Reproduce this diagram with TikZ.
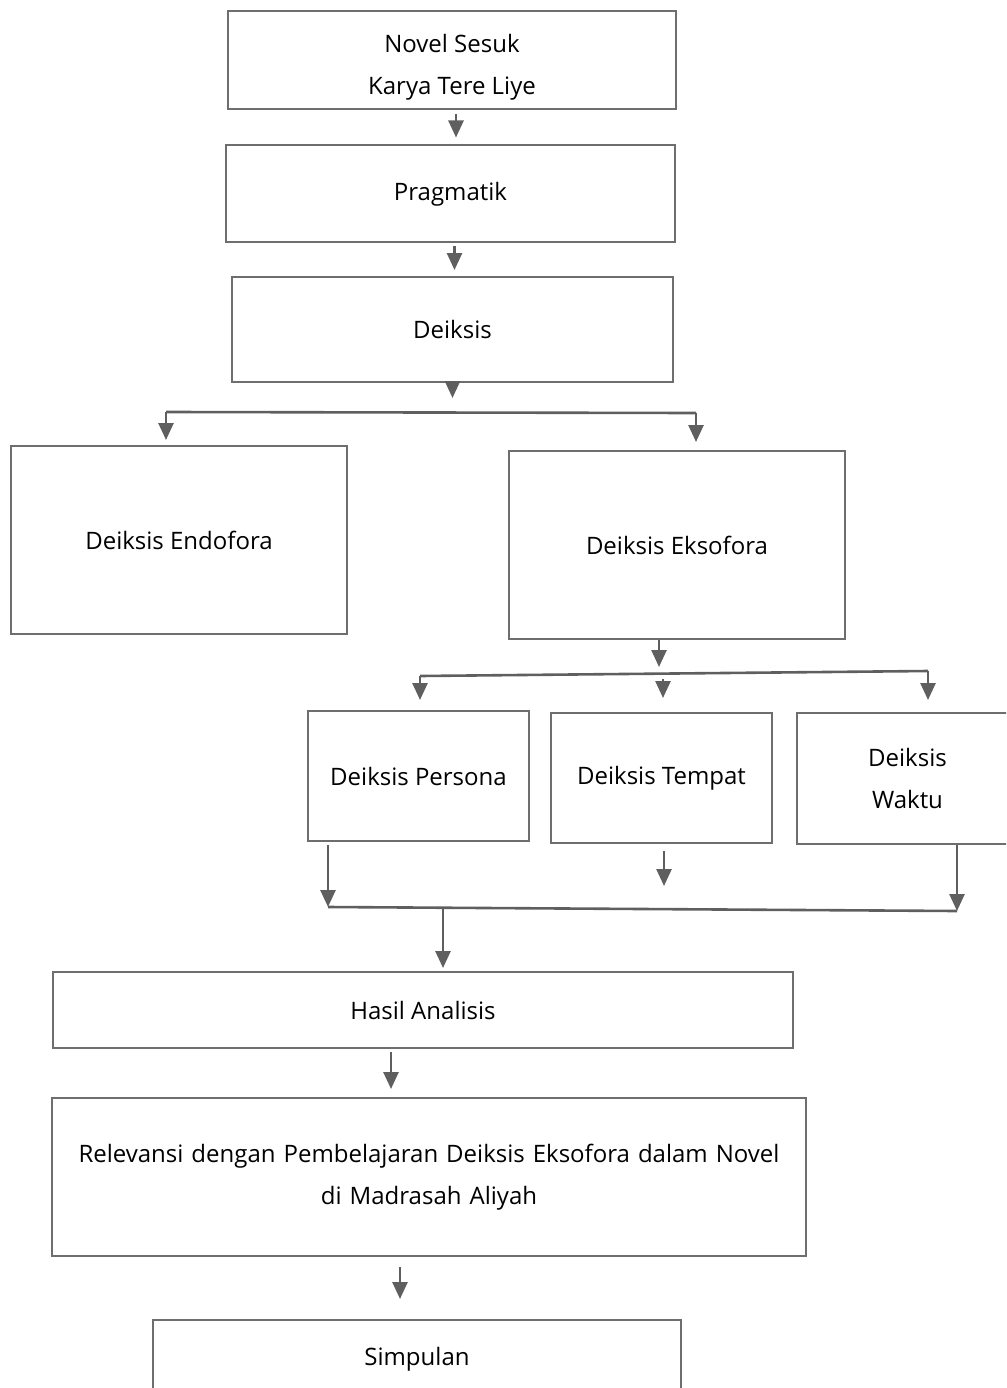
\documentclass[tikz,border=0pt]{standalone}
\usepackage{fontspec}
\setmainfont{Open Sans}
\usepackage{xcolor}
\usepackage{tikz}
\usetikzlibrary{positioning,calc,arrows.meta}

\definecolor{garis}{HTML}{5F5F5F}
\definecolor{tepi}{HTML}{6E6E6E}

\tikzset{
    kotak/.style={draw=tepi, line width=2pt, inner sep=0pt, align=center,
                  font=\fontsize{24}{42}\selectfont},
    panah/.style={-{Triangle[length=17pt,width=15pt]}, draw=garis, line width=2.6pt},
    cabang/.style={draw=garis, line width=2.6pt}
}

\begin{document}
\begin{tikzpicture}[x=1pt, y=-1pt]
    \useasboundingbox (0,0) rectangle (1006,1388);
    \clip (0,0) rectangle (1006,1388);

    % Boxes
    \node[kotak, minimum width=448pt, minimum height=98pt] (novel) at (452,60) {\rule{0pt}{32pt}Novel Sesuk\\Karya Tere Liye};
    \node[kotak, minimum width=449pt, minimum height=97pt] (prag) at (450.5,194) {Pragmatik};
    \node[kotak, minimum width=441pt, minimum height=105pt] (deiksis) at (452.5,329.5) {Deiksis};

    \node[kotak, minimum width=336pt, minimum height=188pt] (endo) at (179,540) {Deiksis Endofora};
    \node[kotak, minimum width=336pt, minimum height=188pt] (ekso) at (677,545) {Deiksis Eksofora};

    \node[kotak, minimum width=221pt, minimum height=130pt] (persona) at (418.5,776) {Deiksis Persona};
    \node[kotak, minimum width=221pt, minimum height=130pt] (tempat) at (661.5,778) {Deiksis Tempat};
    \node[kotak, minimum width=221pt, minimum height=131pt] (waktu) at (907.5,778.5) {Deiksis\\Waktu};

    \node[kotak, minimum width=740pt, minimum height=76pt] (hasil) at (423,1010) {Hasil Analisis};
    \node[kotak, minimum width=754pt, minimum height=158pt, text width=730pt] (relevansi) at (429,1177)
        {Relevansi dengan Pembelajaran Deiksis Eksofora dalam Novel\\di Madrasah Aliyah};
    \node[kotak, minimum width=528pt, minimum height=78pt] (simpulan) at (417,1359) {Simpulan};

    % Branch points
    \coordinate (cab1a) at (166,412);
    \coordinate (cab1b) at (696,413);
    \coordinate (cab2a) at (420,676);
    \coordinate (cab2b) at (928,671);
    \coordinate (cab2c) at (663,679);
    \coordinate (gab1) at (328,907);
    \coordinate (gab2) at (957,911);
    \coordinate (gab3) at (443,909);
    \coordinate (ujung) at (664,886);

    % Top column
    \draw[panah, shorten <=4pt, shorten >=7pt] ([xshift=4]novel.south) -- ([xshift=4]novel.south |- prag.north);
    \draw[panah, shorten <=3pt, shorten >=6pt] ([xshift=4]prag.south) -- ([xshift=4]prag.south |- deiksis.north);
    \draw[panah, shorten <=-4pt, shorten >=14pt] (deiksis.south) -- (deiksis.south |- cab1a);

    % First split
    \draw[cabang] (cab1a) -- (cab1b);
    \draw[panah, shorten >=5pt] (cab1a) -- (cab1a |- endo.north);
    \draw[panah, shorten >=8pt] (cab1b) -- (cab1b |- ekso.north);

    % Second split
    \draw[panah, shorten >=9pt] ([xshift=-18]ekso.south) -- ([xshift=-18]ekso.south |- cab2a);
    \draw[cabang] (cab2a) -- (cab2b);
    \draw[panah, shorten >=10pt] (cab2a) -- (cab2a |- persona.north);
    \draw[panah, shorten >=14pt] (cab2c) -- (cab2c |- tempat.north);
    \draw[panah, shorten >=12pt] (cab2b) -- (cab2b |- waktu.north);

    % Join
    \draw[panah, shorten <=3pt] (persona.south -| gab1) -- (gab1);
    \draw[panah, shorten <=7pt] (tempat.south -| ujung) -- (ujung);
    \draw[panah] (waktu.south -| gab2) -- (gab2);
    \draw[cabang] (gab1) -- (gab2);
    \draw[panah, shorten >=3pt] (gab3) -- (gab3 |- hasil.north);

    % Bottom column
    \draw[panah, shorten <=3pt, shorten >=8pt] ([xshift=-32]hasil.south) -- ([xshift=-32]hasil.south |- relevansi.north);
    \draw[panah, shorten <=10pt, shorten >=20pt] ([xshift=-29]relevansi.south) -- ([xshift=-29]relevansi.south |- simpulan.north);
\end{tikzpicture}
\end{document}
